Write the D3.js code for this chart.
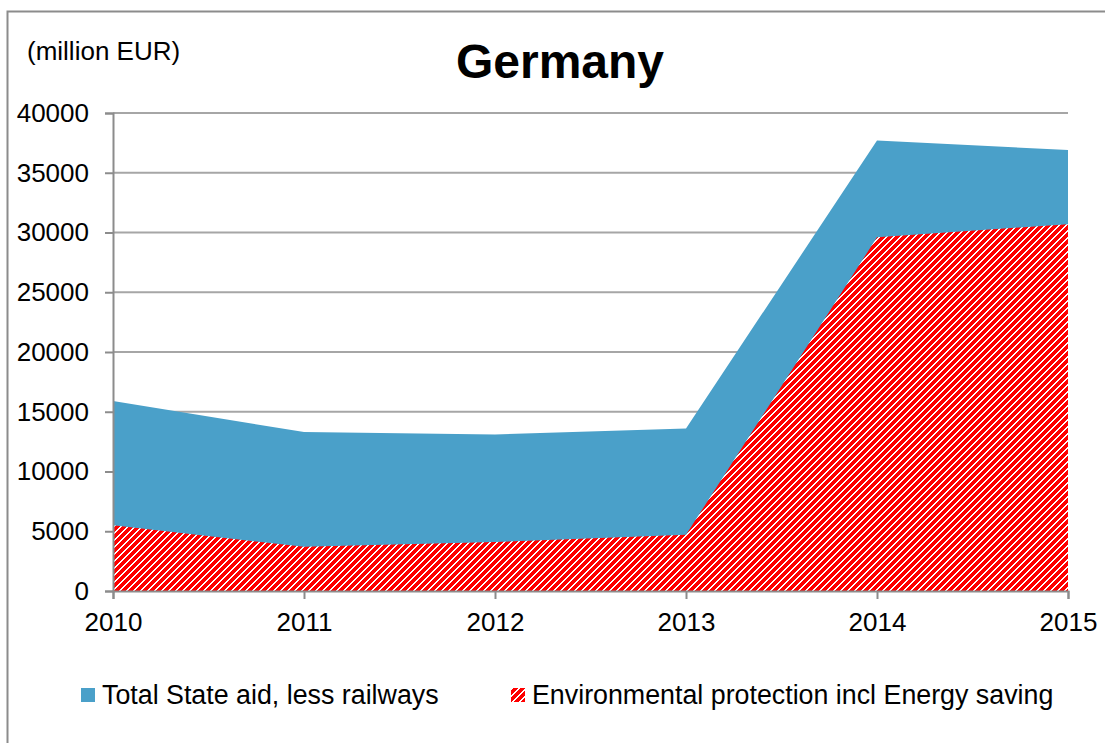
<!DOCTYPE html>
<html>
<head>
<meta charset="utf-8">
<script src="https://cdn.jsdelivr.net/npm/d3@7"></script>
<style>
  body { margin: 0; background: #fff; }
  svg { display: block; font-family: "Liberation Sans", Arial, sans-serif; }
</style>
</head>
<body>
<div id="chart"></div>
<script>
var years = [2010, 2011, 2012, 2013, 2014, 2015];
var totalAid = [15900, 13300, 13100, 13600, 37700, 36900];
var envProtection = [5500, 3700, 4100, 4700, 29600, 30700];
var yTicks = [0, 5000, 10000, 15000, 20000, 25000, 30000, 35000, 40000];
var seriesNames = ["Total State aid, less railways", "Environmental protection incl Energy saving"];

var width = 1105,
    height = 743;
var plot = {left: 113, right: 1068, top: 113, bottom: 591};

var svg = d3.select("#chart").append("svg")
    .attr("width", width)
    .attr("height", height);

// hatch for the environmental series, kept pixel-crisp like the original
var pattern = svg.append("defs").append("pattern")
    .attr("id", "hatch")
    .attr("patternUnits", "userSpaceOnUse")
    .attr("width", 7)
    .attr("height", 7);
pattern.append("rect")
    .attr("width", 7).attr("height", 7)
    .attr("fill", "#fff");
pattern.append("path")
    .attr("d", "M-1,8 L8,-1 M-2,2 L2,-2 M5,9 L9,5")
    .attr("stroke", "#ff0000")
    .attr("stroke-width", 3)
    .attr("shape-rendering", "crispEdges");

// outer frame (right and bottom edges run off the picture)
svg.append("rect")
    .attr("x", 7.5).attr("y", 11.5)
    .attr("width", 1120).attr("height", 760)
    .attr("fill", "none")
    .attr("stroke", "#8c8c8c")
    .attr("stroke-width", 2);

var x = d3.scalePoint()
    .domain(years)
    .range([plot.left, plot.right]);

var y = d3.scaleLinear()
    .domain([0, 40000])
    .range([plot.bottom, plot.top]);

// gridlines
svg.append("g")
    .selectAll("line")
    .data(yTicks.slice(1))
    .join("line")
    .attr("x1", plot.left)
    .attr("x2", plot.right)
    .attr("y1", function (d) { return y(d); })
    .attr("y2", function (d) { return y(d); })
    .attr("stroke", "#a6a6a6")
    .attr("stroke-width", 2);

var area = function (values) {
  return d3.area()
      .x(function (d, i) { return x(years[i]); })
      .y0(y(0))
      .y1(function (d) { return y(d); })(values);
};

svg.append("path")
    .attr("d", area(totalAid))
    .attr("fill", "#4aa0c9");

svg.append("path")
    .attr("d", area(envProtection))
    .attr("fill", "url(#hatch)");

// axes
var yAxis = svg.append("g")
    .attr("transform", "translate(" + plot.left + ",0)")
    .call(d3.axisLeft(y).tickValues(yTicks).tickSize(8).tickPadding(16)
        .tickFormat(function (d) { return d; }));

var xAxis = svg.append("g")
    .attr("transform", "translate(0," + plot.bottom + ")")
    .call(d3.axisBottom(x).tickSize(8).tickPadding(14));

[yAxis, xAxis].forEach(function (ax) {
  ax.select(".domain").attr("stroke", "#8c8c8c").attr("stroke-width", 2);
  ax.selectAll(".tick line").attr("stroke", "#8c8c8c").attr("stroke-width", 2);
  ax.selectAll("text")
      .attr("fill", "#000")
      .style("font-size", "26px")
      .style("font-family", "'Liberation Sans', Arial, sans-serif");
});
xAxis.selectAll("text").attr("dy", "0.71em");

// title and unit
svg.append("text")
    .attr("x", 560)
    .attr("y", 78)
    .attr("text-anchor", "middle")
    .style("font-size", "48px")
    .style("font-weight", "bold")
    .text("Germany");

svg.append("text")
    .attr("x", 27)
    .attr("y", 60)
    .style("font-size", "26px")
    .text("(million EUR)");

// legend
var legend = svg.append("g");
var legendX = [81, 511];
var legendFill = ["#4aa0c9", "url(#hatch)"];
seriesNames.forEach(function (name, i) {
  legend.append("rect")
      .attr("x", legendX[i])
      .attr("y", 688)
      .attr("width", 14)
      .attr("height", 14)
      .attr("fill", legendFill[i]);
  legend.append("text")
      .attr("x", legendX[i] + 21)
      .attr("y", 704)
      .style("font-size", "26.8px")
      .text(name);
});
</script>
</body>
</html>
